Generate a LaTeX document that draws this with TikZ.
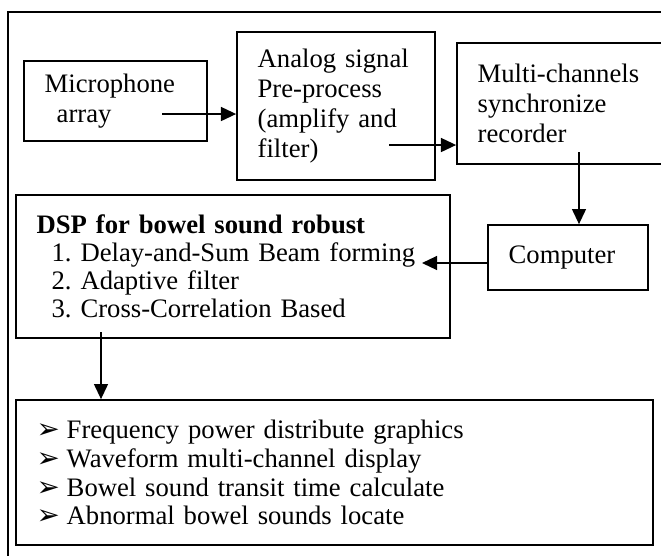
\documentclass[tikz,border=0pt]{standalone}
\usepackage{fontspec}
\setmainfont{Liberation Serif}
\newfontfamily\symfont{DejaVu Sans}
\usetikzlibrary{arrows.meta}
\frenchspacing
\newcommand{\bulletmark}{\makebox[13.5pt][l]{\symfont\fontsize{12.5}{12}\selectfont ➢}}

\begin{document}
\begin{tikzpicture}[x=0.45pt, y=-0.45pt,
    box/.style={draw, line width=0.8pt, align=left, inner xsep=9.3pt, inner ysep=0pt,
        font=\fontsize{12}{13.5}\selectfont},
    flow/.style={line width=0.65pt, -{Triangle[length=6.8pt, width=6.3pt]}}]
\useasboundingbox (0,0) rectangle (661,555);
\clip (0,0) rectangle (661,555);
\draw[line width=0.7pt] (8,570) -- (8,12) -- (670,12);
\node[box, text width=63.75pt, minimum height=36pt] (mic) at (115.5,101)
    {Microphone\\\hspace*{5.4pt}array};
\node[box, text width=70.5pt, minimum height=66.6pt] (ana) at (336,106)
    {Analog signal\\Pre-process\\(amplify and\\filter)};
\node[box, text width=86.25pt, minimum height=54.45pt] (rec) at (573.5,103.5)
    {Multi-channels\\synchronize\\recorder};
\node[box, text width=53.4pt, minimum height=29.25pt] (pc) at (568,257.5) {Computer};
\node[box, text width=176.7pt, minimum height=64.35pt,
    font=\fontsize{12}{12.6}\selectfont] (dsp) at (233,266.5)
    {\textbf{DSP for bowel sound robust}\\
    \hspace*{6.75pt}1. Delay-and-Sum Beam forming\\
    \hspace*{6.75pt}2. Adaptive filter\\
    \hspace*{6.75pt}3. Cross-Correlation Based};
\node[box, text width=268pt, minimum height=65.25pt,
    font=\fontsize{12}{13}\selectfont] (out) at (334.5,472.5)
    {\bulletmark Frequency power distribute graphics\\
    \bulletmark Waveform multi-channel display\\
    \bulletmark Bowel sound transit time calculate\\
    \bulletmark Abnormal bowel sounds locate};
\coordinate (m1) at (162,114);
\draw[flow] (m1) -- (ana.west |- m1);
\coordinate (m2) at (389,145);
\draw[flow] (m2) -- (rec.west |- m2);
\coordinate (m3) at (579,152);
\draw[flow] (m3) -- (m3 |- pc.north);
\coordinate (m4) at (422,263);
\draw[flow] (pc.west |- m4) -- (m4);
\coordinate (m5) at (101,332);
\draw[flow] (m5) -- (m5 |- out.north);
\end{tikzpicture}
\end{document}
